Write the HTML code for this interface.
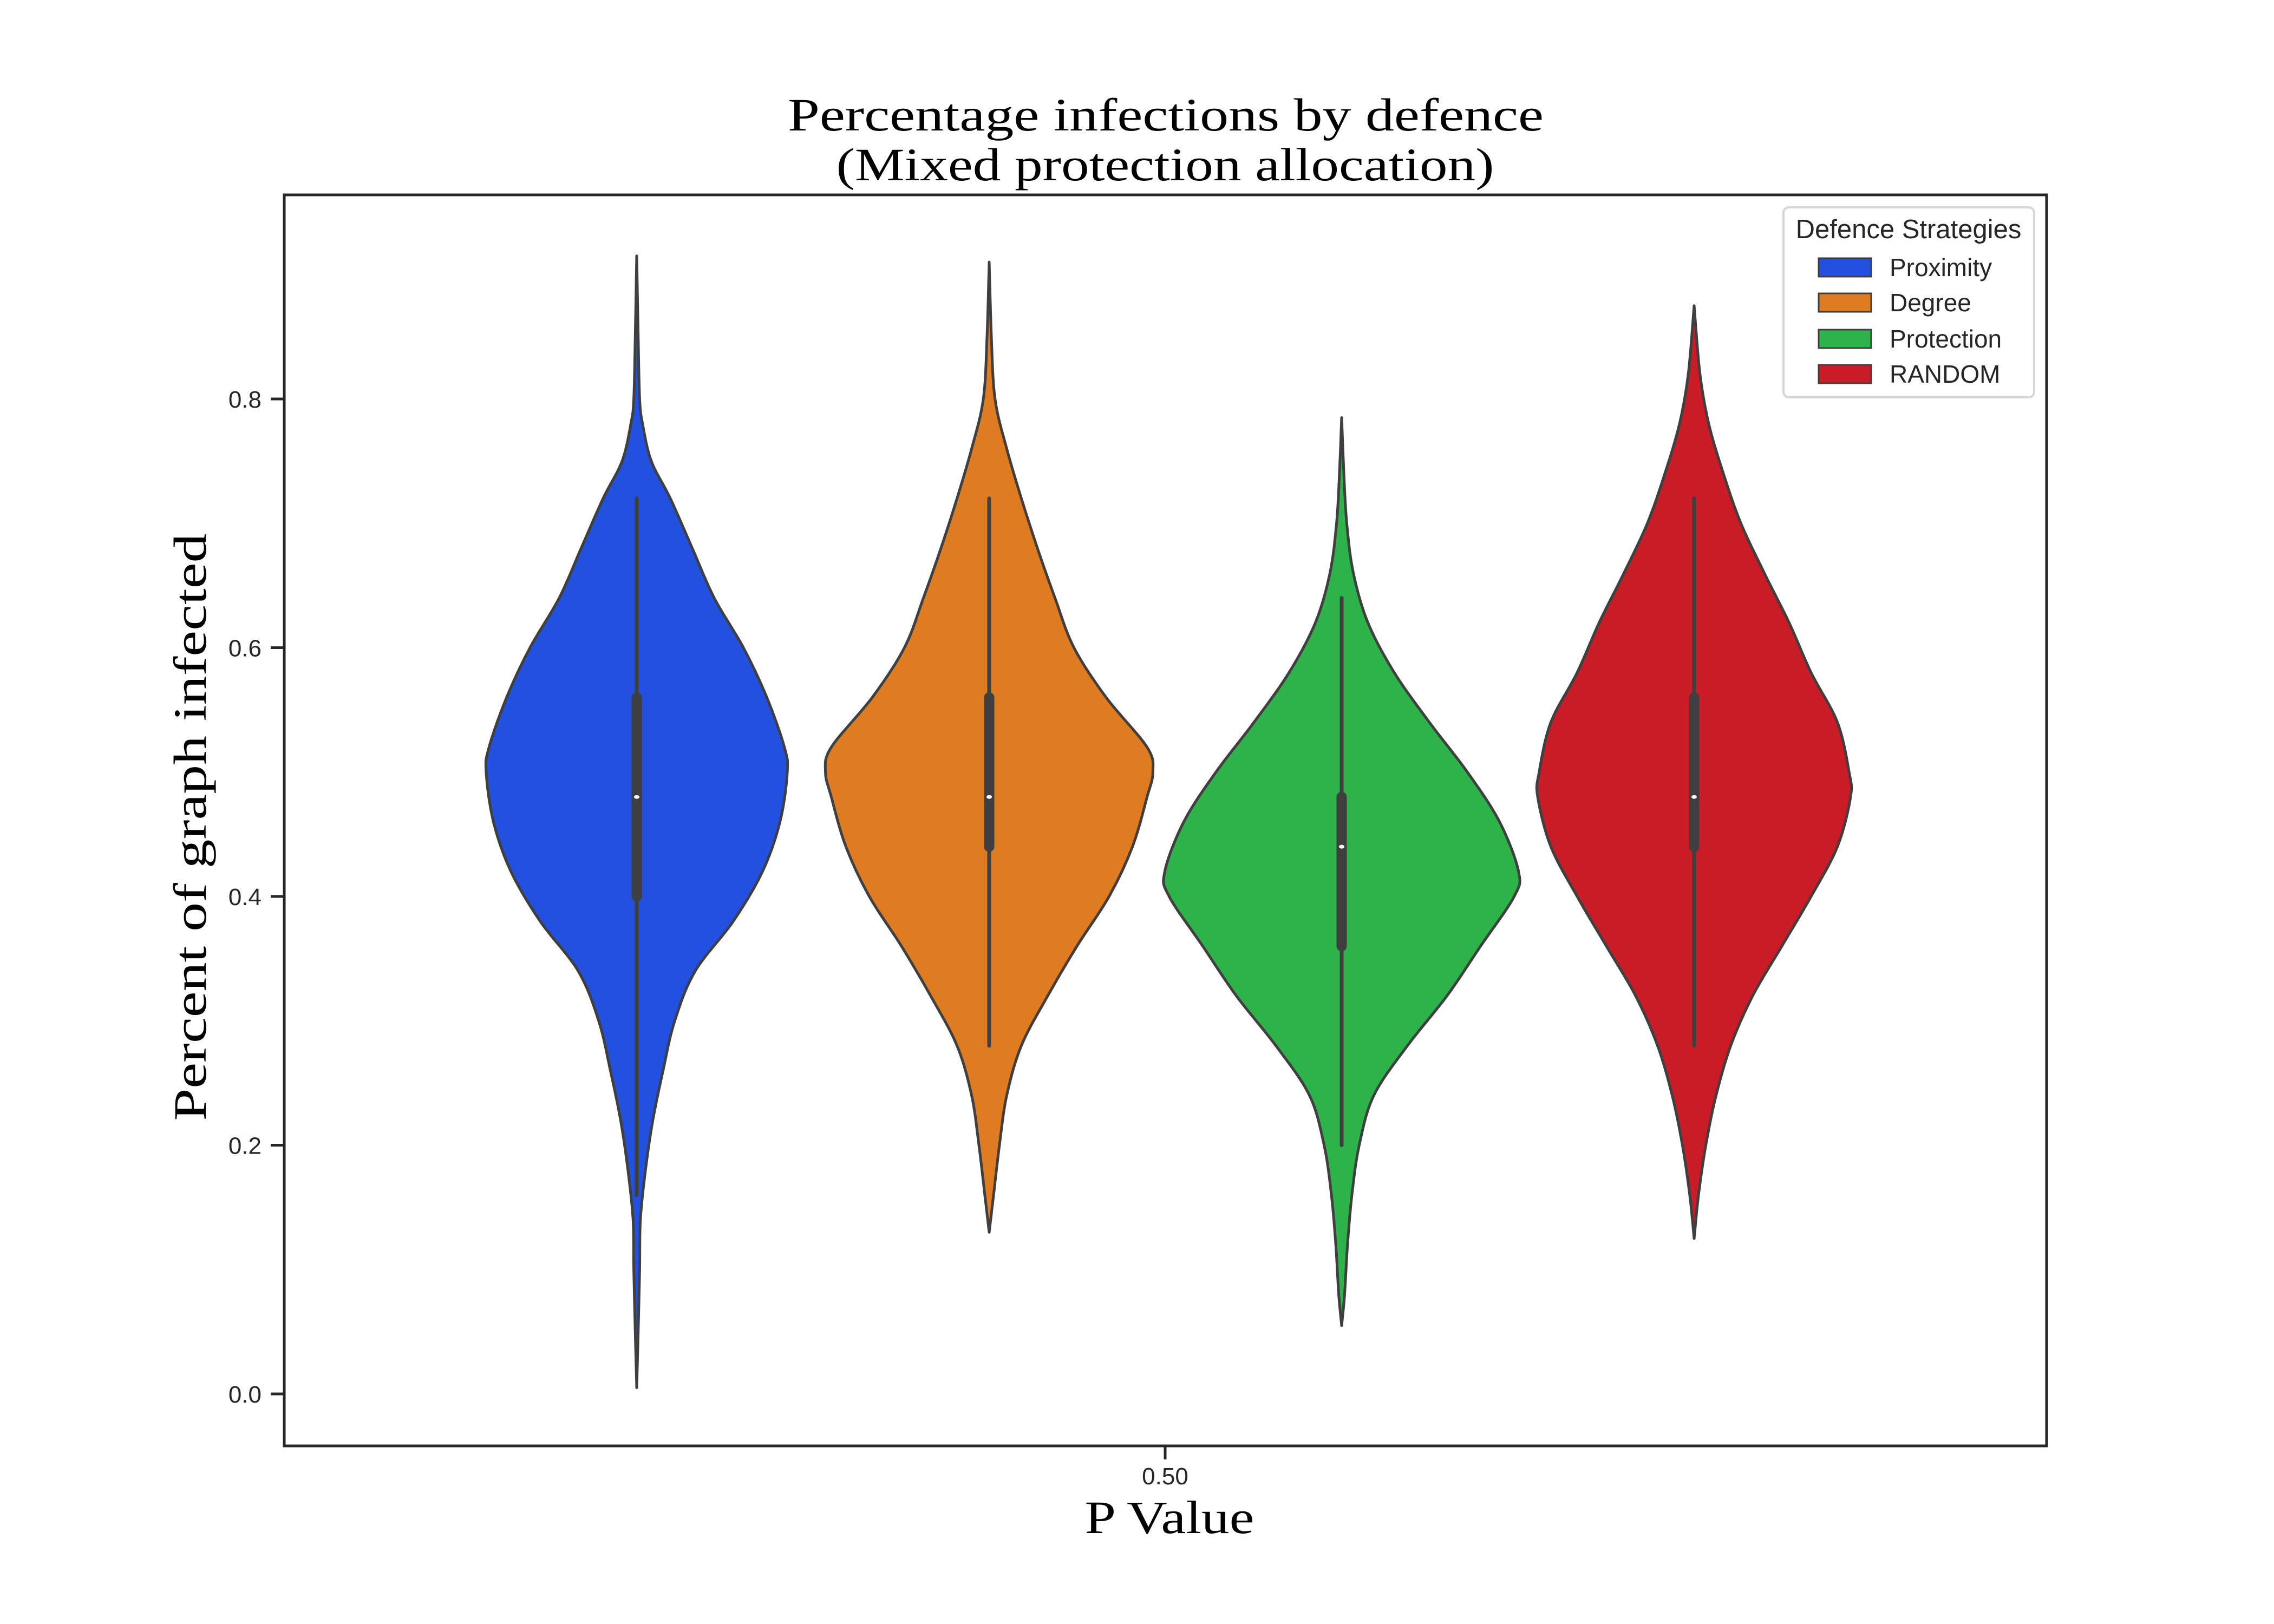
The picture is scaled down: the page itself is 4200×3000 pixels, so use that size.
<!DOCTYPE html>
<html><head><meta charset="utf-8"><style>
html,body{margin:0;padding:0;background:#fff;}
svg{display:block;}
.tick{font-family:"Liberation Sans","DejaVu Sans",sans-serif;font-size:44px;fill:#262626;}
.serif{font-family:"Liberation Serif","DejaVu Serif",serif;fill:#000;}
.leg{font-family:"Liberation Sans","DejaVu Sans",sans-serif;fill:#262626;}
</style></head><body>
<svg id="chart" width="4200" height="3000" viewBox="0 0 4200 3000" xmlns="http://www.w3.org/2000/svg">
<rect width="4200" height="3000" fill="#fff"/>
<text class="serif" x="2153" y="241" font-size="86" text-anchor="middle" textLength="1396" lengthAdjust="spacingAndGlyphs">Percentage infections by defence</text>
<text class="serif" x="2152" y="333" font-size="86" text-anchor="middle" textLength="1215" lengthAdjust="spacingAndGlyphs">(Mixed protection allocation)</text>
<g id="plot"></g>
<rect x="525" y="360" width="3255" height="2311" fill="none" stroke="#262626" stroke-width="5"/>
<g id="yticks"></g>
<line x1="2152" y1="2671" x2="2152" y2="2696" stroke="#262626" stroke-width="5"/>
<text class="tick" x="2152" y="2742" text-anchor="middle">0.50</text>
<text class="serif" x="2160" y="2832" font-size="86" text-anchor="middle" textLength="313" lengthAdjust="spacingAndGlyphs">P Value</text>
<text class="serif" x="0" y="0" font-size="86" text-anchor="middle" textLength="1085" lengthAdjust="spacingAndGlyphs" transform="translate(380,1528) rotate(-90)">Percent of graph infected</text>
<g>
<rect x="3294" y="383" width="463" height="351" rx="10" fill="#fff" stroke="#d6d6d6" stroke-width="4"/>
<text class="leg" x="3525" y="440" font-size="49" text-anchor="middle">Defence Strategies</text>
<g id="legend-entries"></g>
</g>
</svg>
<script>
const categories = ["Proximity","Degree","Protection","RANDOM"];
const colors = ["#2251e0","#df7c21","#2eb34a","#c91c26"];
const yTicks = [0.0,0.2,0.4,0.6,0.8];
const yTickLabels = ["0.0","0.2","0.4","0.6","0.8"];
// density profiles: values (y) and half-width (density units)
const proxVals = [0.915,0.85,0.80,0.78,0.75,0.72,0.68,0.64,0.60,0.56,0.52,0.50,0.46,0.42,0.38,0.34,0.30,0.26,0.22,0.18,0.14,0.10,0.05,0.005];
const proxDens = [0,1,2,4,10,23,38,53,73,89,101,103,98,86,66,40,26,18,11,6,2.5,2,1,0];
const degVals = [0.91,0.85,0.80,0.76,0.72,0.68,0.64,0.60,0.56,0.52,0.50,0.48,0.44,0.40,0.36,0.32,0.28,0.24,0.20,0.16,0.13];
const degDens = [0,1.5,4,12,22,33,45,58,80,108,112,108,98,82,60,40,22,12,7,3,0];
const protVals = [0.785,0.74,0.70,0.66,0.62,0.58,0.54,0.50,0.46,0.42,0.40,0.36,0.32,0.28,0.24,0.20,0.16,0.12,0.08,0.055];
const protDens = [0,1.5,3.5,8,18,36,60,86,108,121,118,95,72,45,22,12,7,4,2,0];
const randVals = [0.875,0.82,0.78,0.74,0.70,0.66,0.62,0.58,0.54,0.50,0.48,0.44,0.40,0.36,0.32,0.28,0.24,0.20,0.16,0.125];
const randDens = [0,4,10,20,32,48,65,80,98,106,107,98,80,60,40,25,15,8,3,0];
const q1 = [0.40,0.44,0.36,0.44];
const q3 = [0.56,0.56,0.48,0.56];
const medians = [0.48,0.48,0.44,0.48];
const whiskLo = [0.16,0.28,0.20,0.28];
const whiskHi = [0.72,0.72,0.64,0.72];
const offsets = [-0.3,-0.1,0.1,0.3];

const NS="http://www.w3.org/2000/svg";
const L=525,R=3780,T=360,B=2671;
function yS(v){return 2575-2297.5*v;}
function xS(o){return (L+R)/2+o*(R-L);}
const densScale=2.7;
function mk(tag,attrs,parent){const e=document.createElementNS(NS,tag);for(const k in attrs)e.setAttribute(k,attrs[k]);parent.appendChild(e);return e;}

const plot=document.getElementById('plot');
const profiles=[[proxVals,proxDens],[degVals,degDens],[protVals,protDens],[randVals,randDens]];
function smoothPts(pts){
  let d="M"+pts[0][0]+","+pts[0][1];
  for(let i=0;i<pts.length-1;i++){
    const p0=pts[Math.max(0,i-1)],p1=pts[i],p2=pts[i+1],p3=pts[Math.min(pts.length-1,i+2)];
    const c1=[p1[0]+(p2[0]-p0[0])/6,p1[1]+(p2[1]-p0[1])/6];
    const c2=[p2[0]-(p3[0]-p1[0])/6,p2[1]-(p3[1]-p1[1])/6];
    d+=" C"+c1[0].toFixed(1)+","+c1[1].toFixed(1)+" "+c2[0].toFixed(1)+","+c2[1].toFixed(1)+" "+p2[0].toFixed(1)+","+p2[1].toFixed(1);
  }
  return d;
}
categories.forEach((c,i)=>{
  const cx=xS(offsets[i]);
  const vals=profiles[i][0],dens=profiles[i][1];
  const right=vals.map((v,k)=>[cx+dens[k]*densScale,yS(v)]);
  const left=vals.map((v,k)=>[cx-dens[k]*densScale,yS(v)]).reverse();
  const d=smoothPts(right)+" L"+smoothPts(left).slice(1)+" Z";
  const p=mk('path',{d:d,fill:colors[i],stroke:'#3f3f3f','stroke-width':5,'stroke-linejoin':'round'},plot);
  
  
  const w=mk('line',{x1:cx,x2:cx,y1:yS(whiskHi[i]),y2:yS(whiskLo[i]),stroke:'#3f3f3f','stroke-width':7,'stroke-linecap':'round'},plot);
  
  
  const b=mk('line',{x1:cx,x2:cx,y1:yS(q3[i]),y2:yS(q1[i]),stroke:'#3f3f3f','stroke-width':19,'stroke-linecap':'round'},plot);
  
  
  const m=mk('ellipse',{cx:cx,cy:yS(medians[i]),rx:5,ry:3.5,fill:'#fff'},plot);
  
  
});
const yt=document.getElementById('yticks');
yTicks.forEach((v,i)=>{
  const l=mk('line',{x1:L-25,x2:L,y1:yS(v),y2:yS(v),stroke:'#262626','stroke-width':5},yt);
  
  
  const t=mk('text',{x:483,y:yS(v)+16,'text-anchor':'end',class:'tick'},yt);
  t.textContent=yTickLabels[i];
  
  
});
const le=document.getElementById('legend-entries');
const legY=[494,559,626,691];
categories.forEach((c,i)=>{
  const r=mk('rect',{x:3359,y:legY[i]-17,width:97,height:34,fill:colors[i],stroke:'#3f3f3f','stroke-width':3},le);
  
  
  const t=mk('text',{x:3490,y:legY[i]+16,class:'leg','font-size':46},le);
  t.textContent=c;
  
  
});
</script>
</body></html>
